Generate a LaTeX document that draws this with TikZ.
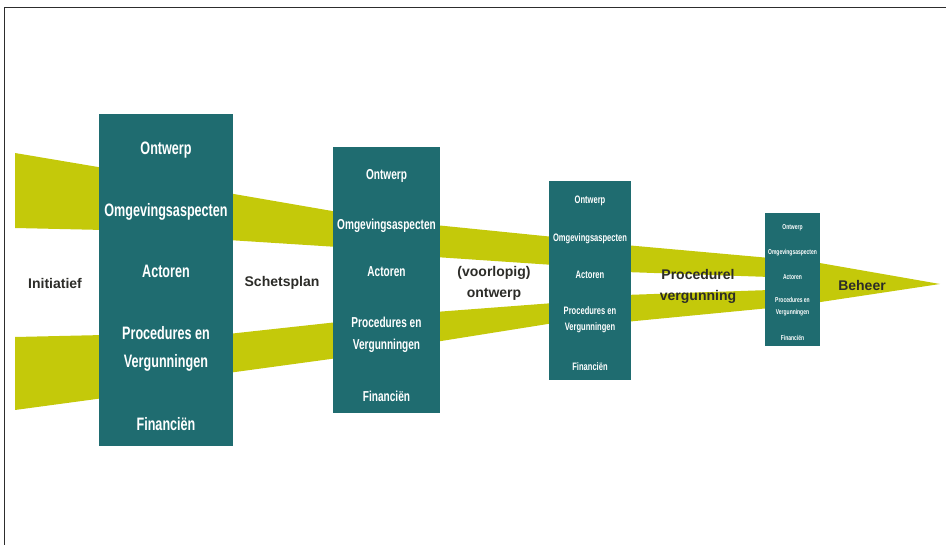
\documentclass[tikz,border=0pt]{standalone}
\usepackage{fontspec}
\usepackage{graphicx}
\setmainfont{Liberation Sans}

\definecolor{boxteal}{RGB}{31,108,112}
\definecolor{bandyellow}{RGB}{196,201,10}
\definecolor{labelgray}{RGB}{44,44,40}
\definecolor{framegray}{RGB}{45,45,45}

% narrow white lettering inside the phase panels
\newcommand{\cnd}[1]{\scalebox{0.7}[1]{#1}}

\begin{document}
\begin{tikzpicture}[x=1pt,y=-1pt,
  panel/.style={fill=boxteal, draw=none, inner sep=0pt},
  band/.style={fill=bandyellow, draw=none},
  itemxl/.style={text=white, inner sep=0pt, font=\fontsize{18}{20}\selectfont\bfseries},
  iteml/.style={text=white, inner sep=0pt, font=\fontsize{14.4}{16}\selectfont\bfseries},
  itemm/.style={text=white, inner sep=0pt, font=\fontsize{10.8}{12}\selectfont\bfseries},
  items/.style={text=white, inner sep=0pt, font=\fontsize{7.1}{8}\selectfont\bfseries},
  phase/.style={text=labelgray, inner sep=0pt, align=center,
    font=\fontsize{14}{21}\selectfont\bfseries}]

\useasboundingbox (0,0) rectangle (946,545);

% frame
\draw[framegray, line width=1.5pt] (4.5,545) -- (4.5,7.5) -- (946,7.5);

% converging bands, one pair of trapezoids per gap
\fill[band] (15,153) -- (104,168) -- (104,230) -- (15,228) -- cycle;
\fill[band] (15,337) -- (104,335) -- (104,398) -- (15,410) -- cycle;
\fill[band] (228,193) -- (338,212) -- (338,247) -- (228,240) -- cycle;
\fill[band] (228,334) -- (338,322) -- (338,358) -- (228,373) -- cycle;
\fill[band] (435,225) -- (554,237) -- (554,265) -- (435,257) -- cycle;
\fill[band] (435,312) -- (554,303) -- (554,323) -- (435,342) -- cycle;
\fill[band] (625,245) -- (770,258) -- (770,277) -- (625,272) -- cycle;
\fill[band] (625,295) -- (770,290) -- (770,308) -- (625,322) -- cycle;
\fill[band] (814,262) -- (940,284) -- (814,303) -- cycle;

% phase panels
\node[panel, minimum width=134pt, minimum height=332pt] (p1) at (166,280) {};
\node[panel, minimum width=107pt, minimum height=266pt] (p2) at (386.5,280) {};
\node[panel, minimum width=82pt, minimum height=199pt] (p3) at (590,280.5) {};
\node[panel, minimum width=55pt, minimum height=133pt] (p4) at (792.5,280) {};

% panel 1
\node[itemxl] (p1a) at (166,150) {\cnd{Ontwerp}};
\node[itemxl] (p1b) at (166,212) {\cnd{Omgevingsaspecten}};
\node[itemxl] (p1c) at (166,271) {\cnd{Actoren}};
\node[itemxl] (p1d) at (166,333) {\cnd{Procedures en}};
\node[itemxl] (p1e) at (166,363) {\cnd{Vergunningen}};
\node[itemxl] (p1f) at (166,424) {\cnd{Financiën}};

% panel 2
\node[iteml] (p2a) at (386.5,176) {\cnd{Ontwerp}};
\node[iteml] (p2b) at (386.5,226) {\cnd{Omgevingsaspecten}};
\node[iteml] (p2c) at (386.5,272) {\cnd{Actoren}};
\node[iteml] (p2d) at (386.5,322) {\cnd{Procedures en}};
\node[iteml] (p2e) at (386.5,346) {\cnd{Vergunningen}};
\node[iteml] (p2f) at (386.5,396) {\cnd{Financiën}};

% panel 3
\node[itemm] (p3a) at (590,201) {\cnd{Ontwerp}};
\node[itemm] (p3b) at (590,239) {\cnd{Omgevingsaspecten}};
\node[itemm] (p3c) at (590,275) {\cnd{Actoren}};
\node[itemm] (p3d) at (590,311) {\cnd{Procedures en}};
\node[itemm] (p3e) at (590,328) {\cnd{Vergunningen}};
\node[itemm] (p3f) at (590,367) {\cnd{Financiën}};

% panel 4
\node[items] (p4a) at (792.5,228) {\cnd{Ontwerp}};
\node[items] (p4b) at (792.5,253) {\cnd{Omgevingsaspecten}};
\node[items] (p4c) at (792.5,277) {\cnd{Actoren}};
\node[items] (p4d) at (792.5,300) {\cnd{Procedures en}};
\node[items] (p4e) at (792.5,313) {\cnd{Vergunningen}};
\node[items] (p4f) at (792.5,338) {\cnd{Financiën}};

% phase names between the panels
\node[phase] (l1) at (55,283) {Initiatief};
\node[phase] (l2) at (282,283) {Schetsplan};
\node[phase] (l3) at (494,283) {(voorlopig)\\ontwerp};
\node[phase] (l4) at (698,286) {Procedurel\\vergunning};
\node[phase] (l5) at (862,285) {Beheer};

\end{tikzpicture}
\end{document}
